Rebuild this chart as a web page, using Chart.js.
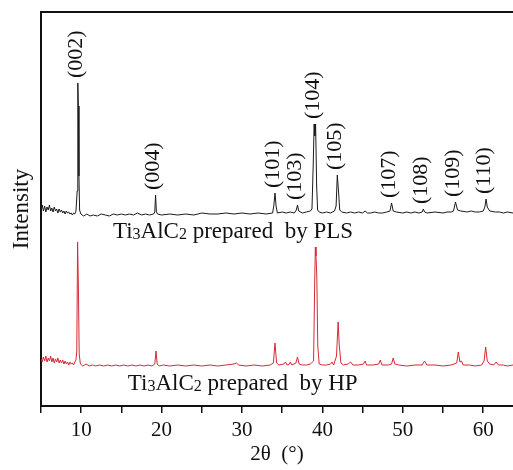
<!DOCTYPE html>
<html>
<head>
<meta charset="utf-8">
<script src="https://cdn.jsdelivr.net/npm/chart.js@4/dist/chart.umd.min.js"></script>
<style>
  html, body { margin: 0; padding: 0; background: #fff; }
  #wrap { width: 513px; height: 470px; }
</style>
</head>
<body>
<div id="wrap"><canvas id="xrd"></canvas></div>
<script>
// --- DATA ---
// 2θ (degrees) and intensity (arbitrary units, offset so the two patterns stack)
const plsAngle = [
  5.0, 5.15, 5.3, 5.45, 5.6, 5.75, 5.9, 6.05, 6.2, 6.35, 6.5, 6.65, 6.8, 6.95, 7.1, 7.25, 7.4, 7.55, 7.7, 7.85,
  8.0, 8.15, 8.3, 8.45, 8.6, 8.75, 8.9, 9.05, 9.2, 9.35, 9.5, 9.58, 9.65, 9.72, 9.8, 9.95,
  10.3, 10.7, 11.1, 11.5, 12.0, 12.5, 13.0, 13.5, 14.0, 14.5, 15.0, 15.5, 16.0, 16.5, 17.0, 17.5, 18.0, 18.5,
  19.0, 19.15, 19.25, 19.35, 19.5, 20.0, 21.0, 22.0, 23.0, 24.0, 25.0, 26.0, 27.0, 28.0, 29.0, 30.0, 31.0, 32.0, 33.0,
  33.8, 33.95, 34.1, 34.25, 34.4, 35.0, 35.5, 36.0, 36.5, 36.75, 36.9, 37.05, 37.5, 38.0, 38.5,
  38.7, 38.85, 38.97, 39.05, 39.15, 39.28, 39.4, 39.6, 40.0, 40.5, 41.0, 41.5, 41.7, 41.85, 42.0, 42.15, 42.4,
  43.0, 43.5, 44.0, 44.5, 45.0, 45.3, 45.6, 46.0, 46.5, 47.0, 47.5, 48.0, 48.4, 48.6, 48.8, 49.2,
  50.0, 50.5, 51.0, 51.5, 52.0, 52.4, 52.55, 52.7, 53.0, 54.0, 55.0, 55.5, 56.0, 56.3, 56.55, 56.8, 57.2,
  58.0, 58.5, 59.0, 59.5, 60.0, 60.2, 60.35, 60.5, 60.8, 61.5, 62.0, 62.5, 63.0, 63.7
];
const plsIntensity = [
  196, 201, 195, 200, 194, 199, 196, 201, 195, 198, 194, 199, 195, 197, 193, 197, 194, 196, 193, 195,
  192, 195, 193, 194, 192, 193, 191, 193, 192, 195, 215, 323, 300, 230, 196, 192,
  190, 192, 190, 191, 190, 192, 191, 190, 192, 191, 192, 191, 192, 191, 193, 191, 192, 191,
  192, 194, 211, 194, 192, 191, 192, 191, 192, 191, 193, 192, 192, 193, 192, 193, 192, 193, 192,
  193, 200, 213, 199, 193, 194, 193, 194, 193, 196, 201, 195, 193, 194, 195,
  197, 240, 282, 270, 282, 220, 196, 194, 193, 194, 193, 195, 200, 231, 215, 196, 194,
  193, 194, 193, 194, 193, 195, 193, 193, 194, 193, 193, 194, 195, 203, 195, 194,
  193, 194, 193, 194, 193, 194, 197, 194, 193, 194, 193, 194, 194, 195, 204, 196, 195,
  194, 195, 194, 194, 195, 199, 207, 199, 195, 194, 194, 193, 194, 193
];

const hpAngle = [
  5.0, 5.15, 5.3, 5.45, 5.6, 5.75, 5.9, 6.05, 6.2, 6.35, 6.5, 6.65, 6.8, 6.95, 7.1, 7.25, 7.4, 7.55, 7.7, 7.85,
  8.0, 8.15, 8.3, 8.45, 8.6, 8.75, 8.9, 9.05, 9.2, 9.35, 9.45, 9.55, 9.65, 9.75, 9.9,
  10.2, 10.6, 11.0, 11.4, 11.8, 12.3, 12.8, 13.3, 13.8, 14.3, 14.8, 15.3, 15.8, 16.3, 16.8, 17.3, 17.8, 18.3, 18.8,
  19.15, 19.3, 19.45, 19.7, 20.2, 21.0, 22.0, 23.0, 24.0, 25.0, 26.0, 27.0, 28.0, 29.0, 29.3, 29.6,
  30.5, 31.5, 32.5, 33.5, 33.9, 34.1, 34.3, 34.6, 35.2, 35.4, 35.6, 35.9, 36.0, 36.2, 36.7, 36.9, 37.1, 37.5,
  38.0, 38.5, 38.9, 39.05, 39.12, 39.2, 39.3, 39.42, 39.6, 40.0, 40.5, 41.0, 41.2, 41.4, 41.75, 41.95, 42.1, 42.3, 42.6,
  43.2, 43.5, 43.8, 44.5, 45.1, 45.3, 45.5, 46.3, 47.0, 47.2, 47.4, 48.2, 48.6, 48.8, 49.0, 49.5,
  50.5, 51.5, 52.4, 52.7, 53.0, 54.0, 55.0, 56.0, 56.7, 56.9, 57.1, 57.3, 57.5, 58.3, 59.0, 59.8,
  60.1, 60.3, 60.5, 60.8, 61.3, 61.6, 61.9, 62.5, 63.0, 63.7
];
const hpIntensity = [
  47, 44, 49, 45, 50, 44, 48, 45, 50, 44, 48, 43, 47, 44, 48, 43, 46, 43, 46, 42,
  45, 42, 44, 41, 44, 42, 43, 41, 44, 46, 55, 164, 120, 52, 42,
  40, 42, 40, 41, 40, 41, 40, 41, 40, 41, 40, 41, 40, 41, 40, 41, 40, 41, 40,
  42, 55, 42, 40, 41, 40, 41, 40, 41, 40, 41, 40, 41, 42, 43, 41,
  40, 41, 40, 41, 43, 63, 43, 41, 42, 44, 41, 42, 44, 41, 43, 49, 42, 41,
  41, 42, 45, 130, 159, 150, 130, 60, 42, 41, 41, 42, 44, 41, 50, 84, 60, 43, 41,
  42, 44, 41, 41, 42, 45, 41, 41, 42, 46, 41, 41, 42, 48, 42, 41,
  40, 41, 41, 45, 41, 41, 40, 41, 43, 54, 44, 45, 41, 41, 40, 41,
  45, 59, 45, 42, 41, 44, 41, 41, 40, 41
];

// Miller indices of the Ti3AlC2 reflections marked on the PLS pattern
const hklLabels = ['(002)', '(004)', '(101)', '(103)', '(104)', '(105)', '(107)', '(108)', '(109)', '(110)'];
const hklAngle = [9.6, 19.25, 34.1, 36.9, 39.05, 41.85, 48.6, 52.55, 56.55, 60.35];

// pattern captions, anchored at (2θ, intensity)
const seriesNames = ['PLS', 'HP'];
const captionAngle = [13.95, 15.8];
const captionLevel = [168, 16];

// axis ticks: labelled majors, unlabelled minors in between
const xTickValues = [5, 10, 15, 20, 25, 30, 35, 40, 45, 50, 55, 60];
const xTickLabels = ['', '10', '', '20', '', '30', '', '40', '', '50', '', '60'];

// --- HELPERS ---
const SERIF = '"Liberation Serif", "DejaVu Serif", serif';

function toPoints(xs, ys) {
    return xs.map((x, i) => ({ x: x, y: ys[i] }));
}

function peakTop(angle) {
    let best = 0;
    plsAngle.forEach((a, i) => {
        if (Math.abs(a - angle) < 0.3 && plsIntensity[i] > best) best = plsIntensity[i];
    });
    return best;
}

// --- ANNOTATIONS ---
const annotations = {
    id: 'annotations',
    afterDatasetsDraw(chart) {
        const { ctx, chartArea, scales: { x, y } } = chart;
        ctx.save();

        // top frame line
        ctx.strokeStyle = '#111';
        ctx.lineWidth = 2;
        ctx.beginPath();
        ctx.moveTo(chartArea.left, chartArea.top);
        ctx.lineTo(chartArea.right, chartArea.top);
        ctx.stroke();

        // hkl labels, rotated, sitting on top of each peak
        ctx.fillStyle = '#111';
        ctx.font = '22px ' + SERIF;
        ctx.textAlign = 'left';
        ctx.textBaseline = 'middle';
        hklLabels.forEach((txt, i) => {
            const px = x.getPixelForValue(hklAngle[i]) - 2;
            const py = y.getPixelForValue(peakTop(hklAngle[i])) - 5;
            ctx.save();
            ctx.translate(px, py);
            ctx.rotate(-Math.PI / 2);
            ctx.fillText(txt, 0, 0);
            ctx.restore();
        });

        // captions with subscripts: Ti3AlC2 prepared  by ...
        ctx.textBaseline = 'alphabetic';
        seriesNames.forEach((name, i) => {
            let cx = x.getPixelForValue(captionAngle[i]);
            const cy = y.getPixelForValue(captionLevel[i]);
            const parts = [['Ti', false], ['3', true], ['AlC', false], ['2', true], [' prepared  by ' + name, false]];
            parts.forEach(([t, sub]) => {
                ctx.font = (sub ? '16px ' : '23px ') + SERIF;
                ctx.fillText(t, cx, cy + (sub ? 1 : 0));
                cx += ctx.measureText(t).width;
            });
        });

        ctx.restore();
    }
};

// --- CHART ---
new Chart(document.getElementById('xrd'), {
    type: 'line',
    data: {
        datasets: [
            {
                label: 'PLS',
                data: toPoints(plsAngle, plsIntensity),
                borderColor: '#1a1a1a',
                borderWidth: 1,
                pointRadius: 0,
                tension: 0
            },
            {
                label: 'HP',
                data: toPoints(hpAngle, hpIntensity),
                borderColor: '#d42a35',
                borderWidth: 1,
                pointRadius: 0,
                tension: 0
            }
        ]
    },
    options: {
        responsive: true,
        maintainAspectRatio: false,
        animation: false,
        layout: { padding: { top: 12, right: 0, left: 0, bottom: 0 } },
        plugins: { legend: { display: false }, tooltip: { enabled: false } },
        scales: {
            x: {
                type: 'linear',
                min: 5,
                max: 63.7,
                afterBuildTicks: (scale) => {
                    scale.ticks = xTickValues.map(v => ({ value: v }));
                },
                afterFit: (scale) => { scale.height = 64; },
                ticks: {
                    autoSkip: false,
                    maxRotation: 0,
                    padding: 5,
                    color: '#111',
                    font: { family: SERIF, size: 21 },
                    callback: (v) => xTickLabels[xTickValues.indexOf(v)] || ''
                },
                grid: { drawOnChartArea: false, drawTicks: true, tickLength: 7, color: '#111', lineWidth: 1.5 },
                border: { color: '#111', width: 2 },
                title: {
                    display: true,
                    text: '2θ  (°)',
                    color: '#111',
                    font: { family: SERIF, size: 21 },
                    padding: { top: 0, bottom: 3 }
                }
            },
            y: {
                min: 0,
                max: 394,
                afterFit: (scale) => { scale.width = 41; },
                ticks: { display: false },
                grid: { display: false, drawTicks: false },
                border: { color: '#111', width: 2 },
                title: {
                    display: true,
                    text: 'Intensity',
                    color: '#111',
                    font: { family: SERIF, size: 23 },
                    padding: { top: 8, bottom: 0 }
                }
            }
        }
    },
    plugins: [annotations]
});
</script>
</body>
</html>
